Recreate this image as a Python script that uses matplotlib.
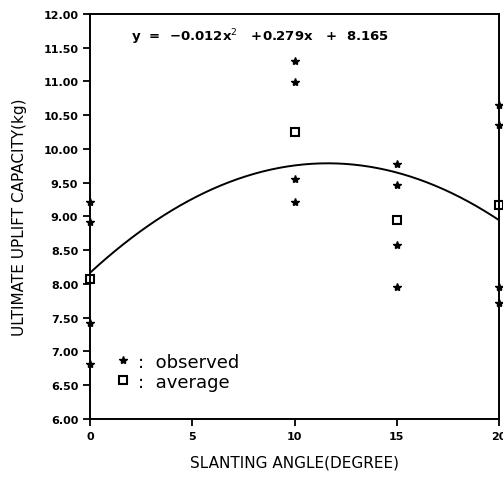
import numpy as np
import matplotlib.pyplot as plt
from matplotlib.lines import Line2D

# observed values and averages
obs_x = [0, 0, 0, 0, 10, 10, 10, 10, 15, 15, 15, 15, 20, 20, 20, 20]
obs_y = [9.22, 8.92, 7.42, 6.82,
         11.30, 10.99, 9.56, 9.21,
         9.77, 9.47, 8.57, 7.96,
         10.65, 10.36, 7.95, 7.71]
avg_x = [0, 10, 15, 20]
avg_y = [8.08, 10.25, 8.95, 9.17]
fit_coef = [-0.012, 0.279, 8.165]

fig = plt.figure(figsize=(5.03, 4.81), dpi=100)
ax = fig.add_axes([0.179, 0.127, 0.813, 0.842])

xs = np.linspace(0, 20, 200)
ax.plot(xs, np.polyval(fit_coef, xs), color='black', lw=1.4)
ax.plot(obs_x, obs_y, linestyle='none', marker='*', color='black', ms=6, clip_on=False)
ax.plot(avg_x, avg_y, linestyle='none', marker='s', mfc='white', mec='black',
        mew=1.5, ms=6, clip_on=False)

ax.set_xlim(0, 20)
ax.set_ylim(6, 12)
ax.set_xticks([0, 5, 10, 15, 20])
ax.set_yticks(np.arange(6, 12.01, 0.5))
ax.yaxis.set_major_formatter(plt.FormatStrFormatter('%.2f'))
ax.tick_params(direction='out', length=5, width=1.3, labelsize=8)
for lab in ax.get_xticklabels() + ax.get_yticklabels():
    lab.set_fontweight('bold')
for s in ax.spines.values():
    s.set_linewidth(1.4)

ax.set_xlabel("SLANTING ANGLE(DEGREE)", fontsize=11, labelpad=10)
ax.set_ylabel("ULTIMATE UPLIFT CAPACITY(kg)", fontsize=11, labelpad=12)

ax.text(0.1, 0.945, "y  =  \u22120.012x$^2$   +0.279x   +  8.165", transform=ax.transAxes,
        fontsize=9.5, fontweight='bold', va='center')

handles = [Line2D([], [], linestyle='none', marker='*', color='black', ms=6),
           Line2D([], [], linestyle='none', marker='s', mfc='white', mec='black', mew=1.5, ms=6)]
ax.legend(handles, [":  observed", ":  average"], loc='lower left',
          bbox_to_anchor=(0.02, 0.03), frameon=False, fontsize=13,
          handletextpad=0.3, labelspacing=0.1, handlelength=1.0)

fig.savefig("out.png", dpi=100)
